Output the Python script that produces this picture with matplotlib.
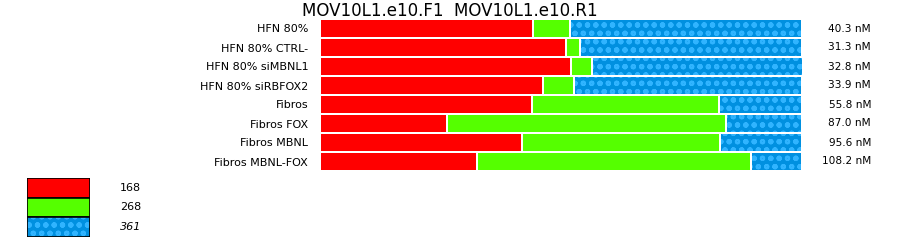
import matplotlib
matplotlib.use("Agg")
import matplotlib.pyplot as plt
from matplotlib.patches import Rectangle
import numpy as np

title = "MOV10L1.e10.F1  MOV10L1.e10.R1"
samples = ["HFN 80%", "HFN 80% CTRL-", "HFN 80% siMBNL1", "HFN 80% siRBFOX2",
           "Fibros", "Fibros FOX", "Fibros MBNL", "Fibros MBNL-FOX"]
pct_168 = [44.2, 51.0, 52.1, 46.3, 44.0, 26.3, 41.9, 32.5]
pct_268 = [7.7, 2.9, 4.4, 6.3, 38.7, 57.9, 41.0, 56.9]
pct_361 = [48.1, 46.1, 43.7, 47.4, 17.3, 15.8, 17.1, 10.6]
conc_labels = ["40.3 nM", "31.3 nM", "32.8 nM", "33.9 nM",
               "55.8 nM", "87.0 nM", "95.6 nM", "108.2 nM"]
legend_labels = ["168", "268", "361"]

RED = "#FF0000"
GREEN = "#55FF00"
BLUE = "#0090E0"
DOT = "#30B4FF"
HATCH = "oo"
gap_lw = 1.44

W, H = 900, 242
fig = plt.figure(figsize=(W / 100, H / 100), dpi=100)
ax = fig.add_axes([320 / W, 1 - 171 / H, 482 / W, 152 / H])

y = np.arange(len(samples))
r = np.array(pct_168)
g = np.array(pct_268)
b = np.array(pct_361)

plt.rcParams["hatch.linewidth"] = 1.5
ax.barh(y, r, left=0, height=1.0, color=RED, edgecolor="white", linewidth=gap_lw)
ax.barh(y, g, left=r, height=1.0, color=GREEN, edgecolor="white", linewidth=gap_lw)
ax.barh(y, b, left=r + g, height=1.0, color=BLUE, edgecolor=DOT, hatch=HATCH, linewidth=0)
ax.barh(y, b, left=r + g, height=1.0, fill=False, edgecolor="white", linewidth=gap_lw)

ax.set_xlim(0, 100)
ax.set_ylim(len(samples) - 0.5, -0.5)
ax.set_yticks(y, samples, fontsize=8)
ax.tick_params(axis="y", length=0, pad=8.5)
ax.set_xticks([])
for s in ax.spines.values():
    s.set_visible(False)

for yi, lab in zip(y, conc_labels):
    ax.text((871 - 320) / 482, yi, lab, transform=ax.get_yaxis_transform(),
            ha="right", va="center", fontsize=7.6)

fig.text(450 / W, 1 - 15.5 / H, title, ha="center", va="baseline", fontsize=12)

# legend
lax = fig.add_axes([27 / W, 1 - 237 / H, 63 / W, 59 / H])
lax.set_xlim(0, 1)
lax.set_ylim(3, 0)
lax.axis("off")
fills = [dict(facecolor=RED), dict(facecolor=GREEN), dict(facecolor=BLUE)]
for i, lab in enumerate(legend_labels):
    if i == 2:
        lax.add_patch(Rectangle((0, i), 1, 1, facecolor=BLUE, edgecolor=DOT,
                                hatch=HATCH, linewidth=0))
    else:
        lax.add_patch(Rectangle((0, i), 1, 1, **fills[i], linewidth=0))
    lax.add_patch(Rectangle((0, i), 1, 1, fill=False, edgecolor="black", linewidth=1.2))
    lax.text((120 - 27) / 63, i + 0.5, lab, ha="left", va="center", fontsize=8,
             style="italic" if i == 2 else "normal", transform=lax.transData, clip_on=False)

fig.savefig("out.png", dpi=100)
